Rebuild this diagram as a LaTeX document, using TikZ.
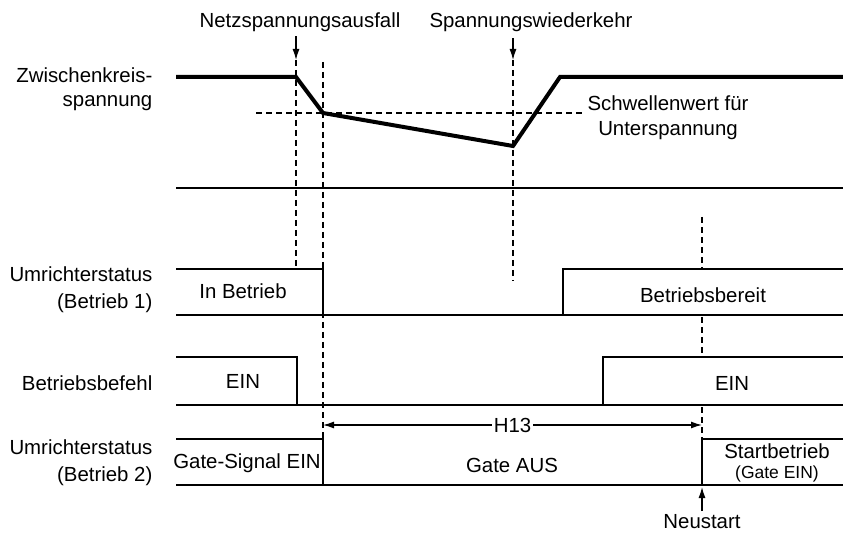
\documentclass[tikz,border=0pt]{standalone}
\usepackage{fontspec}
\setmainfont{Liberation Sans}
\usetikzlibrary{arrows.meta, positioning}
\tikzset{
  every picture/.style={line width=1.3pt},
  lbl/.style={font=\fontsize{20.4}{27}\selectfont, inner sep=0pt, align=right, anchor=east},
  txt/.style={font=\fontsize{20.4}{25}\selectfont, inner sep=0pt, align=center},
  sig/.style={line width=1.4pt, line join=miter},
  bus/.style={line width=4pt, line join=miter},
  dashln/.style={line width=1.3pt, dash pattern=on 6pt off 4pt},
  arrow/.style={-{Latex[length=11pt, width=7pt]}, line width=1.3pt},
  highfill/.style={fill=white, draw=none},
}

\begin{document}
\begin{tikzpicture}[x=1pt, y=-1pt]
  \useasboundingbox (0,0) rectangle (843,534);
  % marks on the time axis
  \coordinate (tA) at (296,60);
  \coordinate (tB) at (323,62);
  \coordinate (tC) at (513,60);
  \coordinate (tD) at (702,217);
  % dashed guide lines
  \draw[dashln] (tA) -- (296,269);
  \draw[dashln] (tB) -- (323,439);
  \draw[dashln] (tC) -- (513,281);
  \draw[dashln] (tD) -- (702,439);
  \draw[dashln] (256,113) -- (582,113);
  % DC bus voltage
  \draw[bus] (176,77) -- (296,77) -- (323,113) -- (513,146) -- (560,77) -- (843,77);
  \draw[sig] (176,188) -- (843,188);
  % inverter status (operation 1)
  \fill[highfill] (176,269) rectangle (323,315);
  \fill[highfill] (563,269) rectangle (843,315);
  \draw[sig] (176,315) -- (843,315);
  \draw[sig] (176,269) -- (323,269) -- (323,315);
  \draw[sig] (563,315) -- (563,269) -- (843,269);
  % run command
  \fill[highfill] (176,357) rectangle (297,405);
  \fill[highfill] (603,357) rectangle (843,405);
  \draw[sig] (176,405) -- (843,405);
  \draw[sig] (176,357) -- (297,357) -- (297,405);
  \draw[sig] (603,405) -- (603,357) -- (843,357);
  % inverter status (operation 2)
  \fill[highfill] (176,439) rectangle (323,485);
  \fill[highfill] (702,439) rectangle (843,485);
  \draw[sig] (176,485) -- (843,485);
  \draw[sig] (176,439) -- (323,439) -- (323,485);
  \draw[sig] (702,485) -- (702,439) -- (843,439);
  % texts
  \node[txt] (netz) at (300,22) {Netzspannungsausfall};
  \node[txt] (swk) at (531,22) {Spannungswiederkehr};
  \node[txt] (schw) at (668,118) {Schwellenwert für\\Unterspannung};
  \node[lbl, font=\fontsize{20.4}{24}\selectfont] (zk) at (153,89) {Zwischenkreis-\\spannung};
  \node[lbl] (us1) at (153,290) {Umrichterstatus\\(Betrieb 1)};
  \node[lbl] (bbf) at (153,383) {Betriebsbefehl};
  \node[lbl] (us2) at (153,463) {Umrichterstatus\\(Betrieb 2)};
  \node[txt] (inb) at (243,291) {In Betrieb};
  \node[txt] (bber) at (703,295) {Betriebsbereit};
  \node[txt] (ein1) at (243,381) {EIN};
  \node[txt] (ein2) at (732,383) {EIN};
  \node[txt] (gsig) at (247,463) {Gate-Signal EIN};
  \node[txt] (gaus) at (512,465) {Gate AUS};
  \node[txt] (sbt) at (777,463) {Startbetrieb\\[-5pt]{\fontsize{17.5}{20}\selectfont (Gate EIN)}};
  \node[txt] (neu) at (702,522) {Neustart};
  % arrows
  \coordinate (h13l) at (323,425);
  \coordinate (h13r) at (702,425);
  \coordinate (tE) at (702,487);
  \draw[arrow] (netz.south -| tA) ++(0,4) -- (tA);
  \draw[arrow] (swk.south -| tC) ++(0,6) -- (tC);
  \draw[arrow, {Latex[length=11pt, width=7pt]}-{Latex[length=11pt, width=7pt]}] (h13l) -- node[txt, fill=white, inner sep=2pt] (h13) {H13} (h13r);
  \draw[arrow] (neu.north) ++(0,-3) -- (tE);
\end{tikzpicture}
\end{document}
